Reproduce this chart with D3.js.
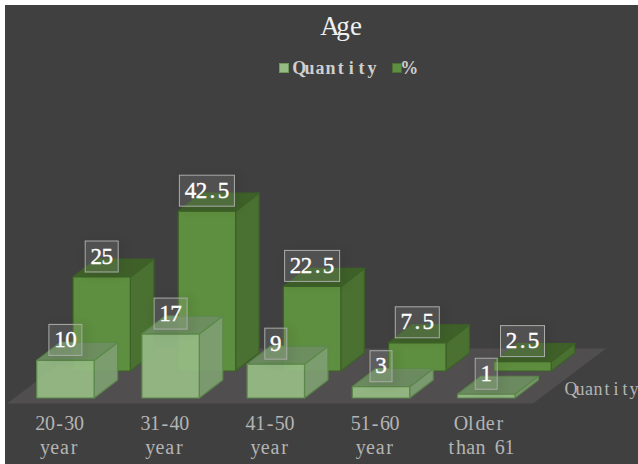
<!DOCTYPE html>
<html>
<head>
<meta charset="utf-8">
<script src="https://cdn.jsdelivr.net/npm/d3@7"></script>
<style>
  html, body { margin: 0; background: #fff; }
  svg { display: block; }
  text { font-family: "Liberation Serif", serif; }
</style>
</head>
<body>
<svg id="chart" width="638" height="464"></svg>
<script>
const categories = ['20-30 year', '31-40 year', '41-50 year', '51-60 year', 'Older than 61'];
const tickLines = [['20-30', 'year'], ['31-40', 'year'], ['41-50', 'year'], ['51-60', 'year'], ['Older', 'than 61']];
const quantity = [10, 17, 9, 3, 1];
const percent = [25, 42.5, 22.5, 7.5, 2.5];
const legendNames = ['Quantity', '%'];

const svg = d3.select('#chart');

svg.append('rect').attr('x', 5).attr('y', 5).attr('width', 633).attr('height', 459).attr('fill', '#404040');

const floorFrontY = 403.5;
const floorLeft = 7, floorRight = 533;
const floorDepth = { dx: 73, dy: 55 };
const barDepth = { dx: 23.5, dy: 18 };

const x = d3.scaleBand().domain(categories).range([floorLeft, floorRight]);
const height = d3.scaleLinear().domain([0, 50]).range([0, 188]);
const barWidth = 57.4;

// glyphs sit in fixed-width cells, one x per character
function cells(str, cx, advance) {
  const start = cx - advance * str.length / 2;
  return Array.from(str, (_, i) => (start + advance * (i + 0.5)).toFixed(1)).join(' ');
}

function poly(points) {
  const p = d3.path();
  points.forEach(([a, b], i) => (i ? p.lineTo(a, b) : p.moveTo(a, b)));
  p.closePath();
  return p.toString();
}

// floor
svg.append('path')
  .attr('d', poly([
    [floorLeft, floorFrontY],
    [floorRight, floorFrontY],
    [floorRight + floorDepth.dx, floorFrontY - floorDepth.dy],
    [floorLeft + floorDepth.dx, floorFrontY - floorDepth.dy]
  ]))
  .attr('fill', '#504e4f');

const series = [
  {
    values: percent, offset: 66, base: 371,
    front: '#5e8e3f', side: '#4a7032', top: '#3f6129', stroke: '#3c6127', opacity: 1
  },
  {
    values: quantity, offset: 29.7, base: 398,
    front: '#96bc85', side: '#7f9f71', top: '#6f8f62', stroke: '#5c8a4a', opacity: 0.93
  }
];

series.forEach((s) => {
  const g = svg.append('g').attr('opacity', s.opacity);
  const bars = g.selectAll('g').data(categories).join('g');
  bars.each(function (c, i) {
    const h = height(s.values[i]);
    const x0 = x(c) + s.offset, x1 = x0 + barWidth;
    const y0 = s.base, y1 = s.base - h;
    const { dx, dy } = barDepth;
    const bar = d3.select(this).attr('stroke', s.stroke).attr('stroke-width', 1.2).attr('stroke-linejoin', 'round');
    bar.append('path').attr('fill', s.side)
      .attr('d', poly([[x1, y0], [x1 + dx, y0 - dy], [x1 + dx, y1 - dy], [x1, y1]]));
    bar.append('path').attr('fill', s.top)
      .attr('d', poly([[x0, y1], [x1, y1], [x1 + dx, y1 - dy], [x0 + dx, y1 - dy]]));
    bar.append('path').attr('fill', s.front)
      .attr('d', poly([[x0, y0], [x1, y0], [x1, y1], [x0, y1]]));
  });
});

// value labels go over all the bars
series.forEach((s) => {
  categories.forEach((c, i) => {
    const v = String(s.values[i]);
    const cx = x(c) + s.offset + barWidth / 2;
    const bottom = s.base - height(s.values[i]) - 5;
    const w = v.length * 11 + 11;
    const label = svg.append('g');
    label.append('rect')
      .attr('x', cx - w / 2).attr('y', bottom - 31).attr('width', w).attr('height', 31)
      .attr('fill', 'rgba(255,255,255,0.1)')
      .attr('stroke', '#a9aca7').attr('stroke-width', 1)
      .style('filter', 'drop-shadow(3px 2px 4px rgba(0,0,0,0.3))');
    label.append('text')
      .attr('x', cells(v, cx, 11)).attr('y', bottom - 8.5)
      .attr('text-anchor', 'middle')
      .attr('font-size', 23).attr('fill', '#fff')
      .attr('stroke', '#fff').attr('stroke-width', 0.35)
      .text(v);
  });
});

// category axis, with two-line labels
const axis = svg.append('g')
  .attr('transform', `translate(0,${floorFrontY})`)
  .call(d3.axisBottom(x).tickSize(0));
axis.select('.domain').remove();
axis.selectAll('.tick text').remove();
axis.selectAll('.tick').each(function (c, i) {
  tickLines[i].forEach((line, k) => {
    d3.select(this).append('text')
      .attr('x', cells(line, 0, 9.7)).attr('y', 26.5 + k * 24)
      .attr('text-anchor', 'middle')
      .attr('font-size', 20).attr('fill', '#b4b4b4')
      .text(line);
  });
});

// depth axis name
svg.append('text')
  .attr('x', cells('Quantity', 602.5, 9)).attr('y', 394.5)
  .attr('text-anchor', 'middle')
  .attr('font-size', 18).attr('fill', '#b4b4b4')
  .text('Quantity');

svg.append('text')
  .attr('x', cells('Age', 343, 13)).attr('y', 35)
  .attr('text-anchor', 'middle')
  .attr('font-size', 27).attr('fill', '#f0f0f0')
  .text('Age');

// legend
const legendItems = [
  { swatch: 279, color: '#96bc85', stroke: '#6f9a5e', text: 294 },
  { swatch: 392, color: '#5e8e3f', stroke: '#4a7032', text: 404 }
];
legendItems.forEach((d, i) => {
  const name = legendNames[i];
  svg.append('rect')
    .attr('x', d.swatch + 0.5).attr('y', 63.5).attr('width', 9).attr('height', 9)
    .attr('fill', d.color).attr('stroke', d.stroke);
  svg.append('text')
    .attr('x', cells(name, d.text + name.length * 5.2, 10.4)).attr('y', 74)
    .attr('text-anchor', 'middle')
    .attr('font-size', 18).attr('font-weight', 'bold').attr('fill', '#cfcfcf')
    .text(name);
});
</script>
</body>
</html>
